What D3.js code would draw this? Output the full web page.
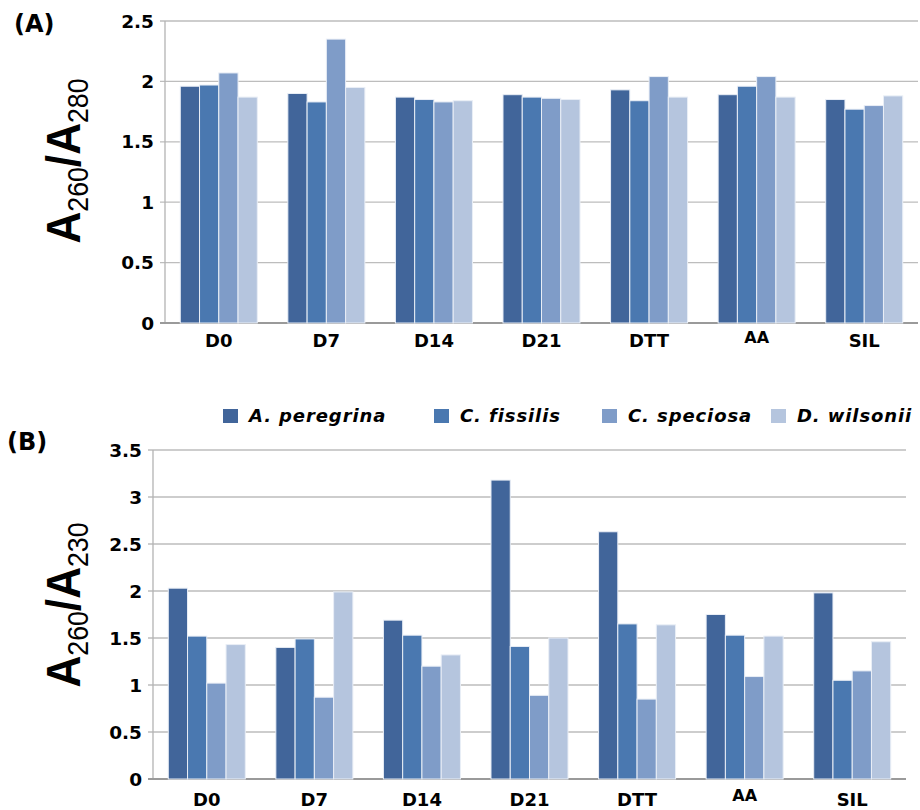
<!DOCTYPE html>
<html>
<head>
<meta charset="utf-8">
<script src="https://cdn.jsdelivr.net/npm/d3@7"></script>
<style>
  html, body { margin: 0; padding: 0; background: #fff; }
  svg { display: block; }
</style>
</head>
<body>
<svg id="chart" width="920" height="810"></svg>
<script>
// Treatments along the x axis
const categories = ["D0", "D7", "D14", "D21", "DTT", "AA", "SIL"];
// Species, in legend order
const species = ["A. peregrina", "C. fissilis", "C. speciosa", "D. wilsonii"];
const speciesColors = ["#41659a", "#4a78b0", "#7f9cc8", "#b5c5de"];

// A260/A280 ratio, one array per species (order follows categories)
const ratio280 = {
  "A. peregrina": [1.96, 1.90, 1.87, 1.89, 1.93, 1.89, 1.85],
  "C. fissilis":  [1.97, 1.83, 1.85, 1.87, 1.84, 1.96, 1.77],
  "C. speciosa":  [2.07, 2.35, 1.83, 1.86, 2.04, 2.04, 1.80],
  "D. wilsonii":  [1.87, 1.95, 1.84, 1.85, 1.87, 1.87, 1.88]
};
// A260/A230 ratio
const ratio230 = {
  "A. peregrina": [2.03, 1.40, 1.69, 3.18, 2.63, 1.75, 1.98],
  "C. fissilis":  [1.52, 1.49, 1.53, 1.41, 1.65, 1.53, 1.05],
  "C. speciosa":  [1.02, 0.87, 1.20, 0.89, 0.85, 1.09, 1.15],
  "D. wilsonii":  [1.43, 1.99, 1.32, 1.50, 1.64, 1.52, 1.46]
};
const ticks280 = [0, 0.5, 1, 1.5, 2, 2.5];
const ticks230 = [0, 0.5, 1, 1.5, 2, 2.5, 3, 3.5];

const svg = d3.select("#chart");
const color = d3.scaleOrdinal().domain(species).range(speciesColors);
const labelFont = "'DejaVu Sans', sans-serif";

function panel(opts) {
  const { left, right, top, bottom, data, ticks, yMax, panelLabel, labelPos,
          sub2, titleCenter, catBaseline, aaBaseline } = opts;
  const g = svg.append("g");

  const x = d3.scaleBand().domain(categories).range([left, right])
    .paddingInner(0.284).paddingOuter(0.142);
  const xs = d3.scaleBand().domain(species).range([0, x.bandwidth()]);
  const y = d3.scaleLinear().domain([0, yMax]).range([bottom, top]);

  // horizontal grid lines with short tick stubs left of the axis
  g.append("g").selectAll("line").data(ticks.filter(t => t > 0)).join("line")
    .attr("x1", left - 5).attr("x2", right)
    .attr("y1", d => y(d)).attr("y2", d => y(d))
    .attr("stroke", "#bdbdbd").attr("stroke-width", 1.3);

  // vertical axis line
  g.append("line")
    .attr("x1", left).attr("x2", left).attr("y1", top).attr("y2", bottom)
    .attr("stroke", "#b3b3b3").attr("stroke-width", 1.3);

  // baseline
  g.append("line")
    .attr("x1", left - 5).attr("x2", right).attr("y1", bottom).attr("y2", bottom)
    .attr("stroke", "#9a9a9a").attr("stroke-width", 2.2);

  // y tick labels
  g.append("g").selectAll("text").data(ticks).join("text")
    .attr("x", left - 11).attr("y", d => y(d)).attr("dy", "0.36em")
    .attr("text-anchor", "end")
    .attr("font-family", labelFont).attr("font-weight", "bold").attr("font-size", 18.5)
    .text(d => d3.format("")(d));

  // bars
  const groups = g.append("g").selectAll("g").data(categories).join("g")
    .attr("transform", c => `translate(${x(c)},0)`);
  groups.selectAll("rect")
    .data((c, i) => species.map(s => ({ s, v: data[s][i] })))
    .join("rect")
    .attr("x", d => xs(d.s)).attr("width", xs.bandwidth())
    .attr("y", d => y(d.v)).attr("height", d => bottom - y(d.v))
    .attr("fill", d => color(d.s))
    .attr("stroke", "#e9eef6").attr("stroke-width", 1);

  // category labels
  g.append("g").selectAll("text").data(categories).join("text")
    .attr("x", c => x(c) + x.bandwidth() / 2)
    .attr("y", c => c === "AA" ? aaBaseline : catBaseline)
    .attr("text-anchor", "middle")
    .attr("font-family", labelFont).attr("font-weight", "bold")
    .attr("font-size", c => c === "AA" ? 16 : 18)
    .text(c => c);

  // panel letter
  g.append("text").attr("x", labelPos[0]).attr("y", labelPos[1])
    .attr("font-family", labelFont).attr("font-weight", "bold").attr("font-size", 24)
    .text(panelLabel);

  // y axis title: A260/A2xx
  const t = g.append("text")
    .attr("transform", `translate(${titleCenter[0]},${titleCenter[1]}) rotate(-90) scale(0.92,1)`)
    .attr("text-anchor", "middle")
    .attr("font-family", "'Liberation Sans', Arial, sans-serif")
    .attr("fill", "#000");
  t.append("tspan").attr("font-weight", "bold").attr("font-size", 48).text("A");
  t.append("tspan").attr("font-size", 29).attr("dy", 8).text("260");
  t.append("tspan").attr("font-weight", "bold").attr("font-size", 48).attr("dy", -8).text("/A");
  t.append("tspan").attr("font-size", 29).attr("dy", 8).text(sub2);
}

panel({
  left: 165, right: 918, top: 21, bottom: 323,
  data: ratio280, ticks: ticks280, yMax: 2.5,
  panelLabel: "(A)", labelPos: [14, 32], sub2: "280",
  titleCenter: [80, 161], catBaseline: 347, aaBaseline: 343
});

panel({
  left: 153, right: 906, top: 450, bottom: 779,
  data: ratio230, ticks: ticks230, yMax: 3.5,
  panelLabel: "(B)", labelPos: [7, 450], sub2: "230",
  titleCenter: [80, 605], catBaseline: 806, aaBaseline: 801
});

// legend
const legendX = [223, 434, 602, 771];
const legend = svg.append("g").selectAll("g").data(species).join("g")
  .attr("transform", (d, i) => `translate(${legendX[i]},409)`);
legend.append("rect").attr("width", 15).attr("height", 14)
  .attr("fill", d => color(d));
legend.append("text").attr("x", 26).attr("y", 13)
  .attr("font-family", labelFont).attr("font-weight", "bold")
  .attr("font-style", "italic").attr("font-size", 18).attr("letter-spacing", 0.9)
  .text(d => d);
</script>
</body>
</html>
